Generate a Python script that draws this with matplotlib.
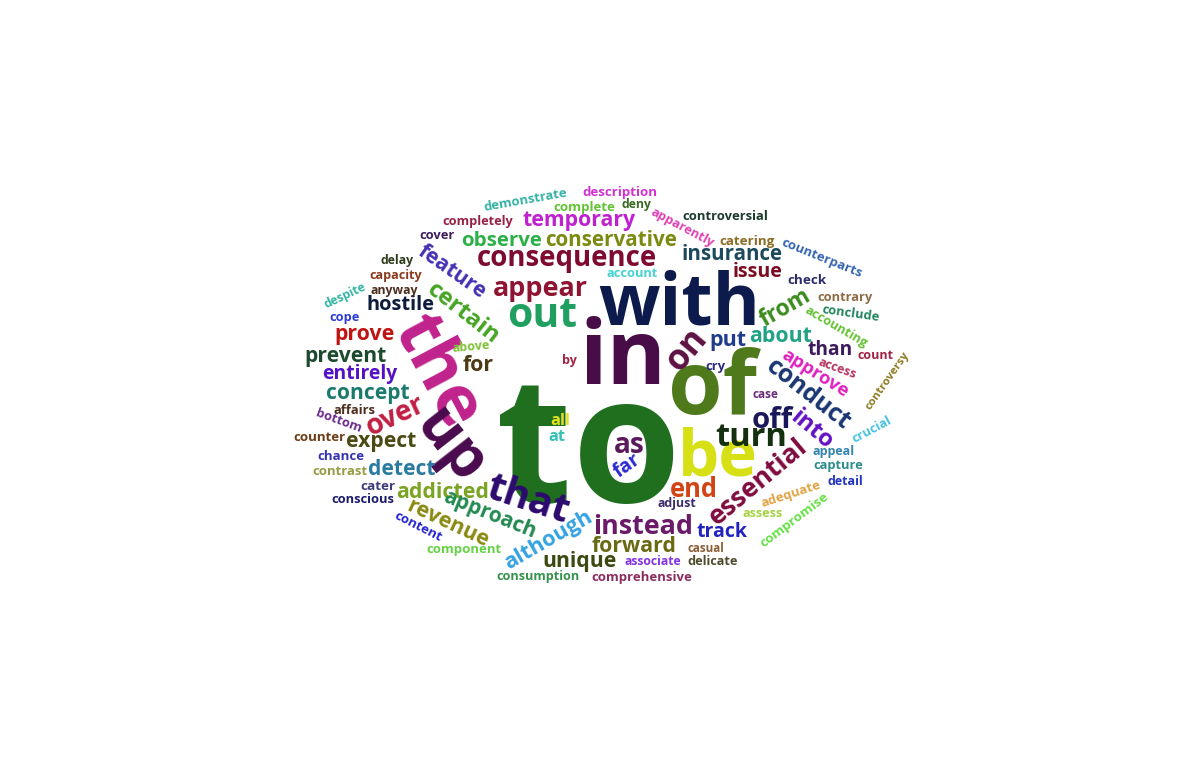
import numpy as np
import matplotlib
matplotlib.use('Agg')
import matplotlib.pyplot as plt

# words of the cloud, biggest first
words = ['to', 'in', 'with', 'of', 'be', 'the', 'up', 'that', 'out', 'consequence',
         'essential', 'conduct', 'turn', 'instead', 'appear', 'certain', 'feature', 'temporary', 'conservative', 'observe',
         'insurance', 'issue', 'off', 'approve', 'from', 'about', 'put', 'on', 'than', 'hostile',
         'prevent', 'prove', 'entirely', 'concept', 'over', 'expect', 'detect', 'addicted', 'approach', 'revenue',
         'although', 'forward', 'unique', 'track', 'end', 'into', 'as', 'far', 'all', 'at',
         'for', 'by', 'above', 'account', 'demonstrate', 'description', 'complete', 'deny', 'completely', 'cover',
         'apparently', 'controversial', 'catering', 'counterparts', 'check', 'contrary', 'conclude', 'accounting', 'count', 'access',
         'controversy', 'cry', 'case', 'crucial', 'appeal', 'capture', 'detail', 'adequate', 'compromise', 'assess',
         'adjust', 'casual', 'associate', 'delicate', 'consumption', 'comprehensive', 'component', 'content', 'conscious', 'cater',
         'contrast', 'chance', 'counter', 'bottom', 'affairs', 'cope', 'despite', 'anyway', 'capacity', 'delay']

# centre of the x-height band of each word (pixels, y down)
word_x = [588, 623, 679, 712, 718, 437, 450, 528, 542, 567,
          758, 808, 751, 643, 540, 463, 452, 579, 611, 502,
          732, 758, 772, 815, 785, 781, 728, 687, 830, 401,
          346, 365, 360, 368, 396, 381, 402, 443, 490, 448,
          548, 634, 580, 722, 694, 812, 629, 627, 560, 557,
          478, 569, 471, 632, 525, 620, 584, 637, 478, 437,
          682, 725, 747, 822, 807, 845, 851, 836, 875, 837,
          887, 715, 765, 872, 834, 838, 845, 791, 794, 763,
          677, 706, 653, 713, 538, 642, 464, 418, 363, 378,
          340, 341, 319, 339, 354, 345, 345, 394, 396, 397]
word_y = [455, 360, 305, 390, 458, 372, 446, 500, 316, 259,
          482, 394, 437, 527, 289, 313, 272, 220, 240, 240,
          254, 272, 420, 373, 308, 336, 340, 350, 350, 305,
          356, 334, 374, 393, 416, 441, 469, 492, 515, 523,
          540, 546, 561, 532, 490, 430, 445, 466, 421, 437,
          365, 361, 347, 274, 200, 192, 207, 205, 222, 236,
          228, 216, 241, 258, 280, 298, 314, 327, 356, 369,
          381, 366, 395, 430, 452, 466, 482, 494, 520, 514,
          504, 549, 562, 562, 577, 577, 549, 527, 500, 486,
          471, 456, 437, 421, 410, 318, 296, 291, 276, 261]
# length of each word along its baseline (pixels)
word_len = [185, 87, 162, 89, 80, 118, 78, 85, 70, 180,
            120, 100, 72, 100, 95, 85, 78, 113, 132, 81,
            101, 50, 41, 75, 55, 63, 37, 45, 45, 68,
            82, 60, 75, 83, 62, 70, 67, 93, 98, 88,
            98, 85, 74, 51, 48, 48, 31, 28, 20, 17,
            31, 15, 38, 51, 84, 75, 62, 30, 71, 35,
            70, 86, 55, 86, 39, 55, 58, 70, 36, 40,
            68, 20, 26, 43, 42, 50, 36, 62, 83, 40,
            39, 37, 57, 50, 83, 100, 75, 52, 63, 35,
            55, 47, 52, 48, 42, 30, 45, 48, 53, 33]
word_rot = [0, 0, 0, 0, 0, -62, -52, -18, 0, 0,
            40, -38, 0, 0, 0, -38, -35, 0, 0, 0,
            0, 0, 0, -32, 30, 0, 0, 50, 0, 0,
            0, 0, 0, 0, 25, 0, 0, 0, -22, -25,
            30, 0, 0, 0, 0, -40, 0, 35, 0, 0,
            0, 0, 5, 0, 10, 0, 0, 0, 0, 0,
            -28, 0, 0, -22, 0, 0, -8, -30, 0, -20,
            55, 0, 0, 28, 0, 0, 0, 18, 37, 0,
            0, 0, 0, 0, 0, 0, 0, -27, 0, 0,
            0, 0, 0, -20, 0, 0, 25, 0, 0, 0]
word_col = ['#1f6f1f', '#480c48', '#0c1a4c', '#4e7a1c', '#d6e014', '#c0228c', '#4a0a4e', '#2c0a6e', '#1fa060', '#7e0a32',
            '#7e0c3e', '#1a3672', '#14300f', '#6a1a68', '#8e1432', '#46a424', '#4430b2', '#c020d0', '#7c8a12', '#2cb048',
            '#1c4a5c', '#7c0c22', '#1a1858', '#e020c0', '#3c8c1e', '#22a284', '#203c8c', '#5c1242', '#3c1a5c', '#0e1c3c',
            '#1c4a2c', '#c01414', '#5412c4', '#1a7a6c', '#c02044', '#4a4a12', '#2a7aa2', '#7aa422', '#228a50', '#8a8a12',
            '#34a2e2', '#6a6a12', '#3c4a12', '#2222c2', '#d24414', '#6412c2', '#5a1a5c', '#2a2ad2', '#e2e222', '#34c2b4',
            '#4c3a12', '#a22244', '#80c234', '#44d2d2', '#34b2a4', '#d232d2', '#62c234', '#3a6a22', '#962244', '#3c1c5c',
            '#e040b2', '#1c3a2c', '#8c6c24', '#3464b2', '#2c2c6c', '#8c6c44', '#22845c', '#64c234', '#a22244', '#b2345c',
            '#8c7a22', '#2c2c7c', '#6c2c7c', '#44c2e2', '#3484b2', '#2c8c8c', '#2234c2', '#e2a244', '#64e244', '#a4d244',
            '#3c2c6c', '#8c5c34', '#8434e2', '#4c4c2c', '#34924c', '#8c2c5c', '#64d244', '#2424d2', '#1c1c6c', '#3c3c7c',
            '#9a9a44', '#3434b2', '#6c3c14', '#6c2c8c', '#4c2c1c', '#2c3cd2', '#34b4a4', '#4c2e1e', '#8c3a1c', '#2e3c1c']

DPI = 100
fig = plt.figure(figsize=(11.99, 7.80), dpi=DPI)
ax = fig.add_axes([0, 0, 1, 1])
ax.set_xlim(0, 1199)
ax.set_ylim(780, 0)
ax.axis('off')

renderer = fig.canvas.get_renderer()
for w, x, y, L, r, c in zip(words, word_x, word_y, word_len, word_rot, word_col):
    t = ax.text(0, 0, w, fontsize=100, family='Open Sans', weight='bold',
                ha='center', va='baseline', rotation_mode='anchor', color=c)
    fs = 100 * L / t.get_window_extent(renderer).width
    em = fs * DPI / 72
    a = np.radians(r)
    # shift from the x-height centre down to the baseline
    t.set_position((x + 0.27 * em * np.sin(a), y + 0.27 * em * np.cos(a)))
    t.set_fontsize(fs)
    t.set_rotation(r)

fig.savefig('out.png', dpi=DPI, facecolor='white')
